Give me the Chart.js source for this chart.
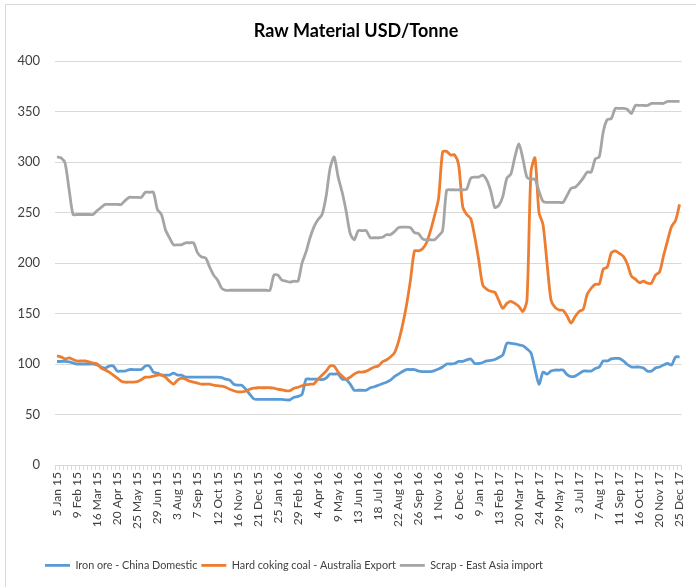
<!DOCTYPE html>
<html><head><meta charset="utf-8">
<script src="https://cdn.jsdelivr.net/npm/chart.js@4.4.1/dist/chart.umd.min.js"></script>
<style>html,body{margin:0;padding:0;background:#fff;overflow:hidden}</style>
</head><body>
<canvas id="c" width="696" height="587" style="display:block;width:696px;height:587px"></canvas>
<script>
// ---- data ----
const chartTitle = 'Raw Material USD/Tonne';
const seriesNames = ['Iron ore - China Domestic', 'Hard coking coal - Australia Export', 'Scrap - East Asia import'];
const seriesColors = ['#5B9BD5', '#ED7D31', '#A5A5A5'];
const tickLabels = ['5 Jan 15','9 Feb 15','16 Mar 15','20 Apr 15','25 May 15','29 Jun 15','3 Aug 15','7 Sep 15','12 Oct 15','16 Nov 15','21 Dec 15','25 Jan 16','29 Feb 16','4 Apr 16','9 May 16','13 Jun 16','18 Jul 16','22 Aug 16','26 Sep 16','1 Nov 16','6 Dec 16','9 Jan 17','13 Feb 17','20 Mar 17','24 Apr 17','29 May 17','3 Jul 17','7 Aug 17','11 Sep 17','16 Oct 17','20 Nov 17','25 Dec 17'];
const labelEvery = 5;
const ironOre = [102.5,102.5,102.5,102,101,100,100,100,100,100,
 99,97,96,98,98,93,93,93,94.5,94.5,
 94.5,94.5,98,98,92,91,89,89,89,91,
 89,89,87,87,87,87,87,87,87,87,
 87,86.5,85,84,80,79,79,75,70,65.5,
 65,65,65,65,65,65,65,64.5,64.5,67,
 68,70,85,85,85,85,84.5,86,90,90,
 90,85,84.5,80,74,74,74,74,76.5,77.5,
 79,80.5,82,84,87.5,90,92.5,94.5,94.5,94.5,
 93,92.5,92.5,92.5,93.5,95,97,100,100,100.5,
 102.5,102.5,104,105,100.5,100.5,101.5,103,103.5,104.5,
 106.5,109,120.5,120.5,120,119,118,115,111,95,
 80,92,90,93,94,94,94,89.5,87.5,88,
 90.5,93,93,93,95.5,97,103,103,105,105.5,
 105.5,103,99.5,97,97,97,96,93,93,96,
 97,99,100.5,99,107,107];
const cokingCoal = [108,107,105,106,104.5,103,103,103,102,101,
 100,96,94,92,89,86,83,82,82,82,
 82.5,84.5,87,87,88,89,89,87,83,80,
 84,86,85,83,82,81,80,80,80,79,
 78.5,78,77,75,73.5,72.5,72.5,73,75,76,
 76.5,76.5,76.5,76.5,76,75,74.5,73.5,73.5,76,
 77,78.5,79.5,80,80.5,85,89,93,98,98,
 92,88,85,87,90,92,92,93,95,97,
 98,102,104,107,111,122,138,158,183,212,
 212,214,220,232,247,264,310,310.5,307,307,
 297,256,248,244,226,203,178,174,172,171,
 163,155,160,162,160,157,152,163,290,304,
 250,238,200,163,156,153.5,153,147.5,140.5,147,
 152,154,169,175,179,179,194,196,210,212,
 209.5,206.5,199,187,184,180.5,182,180,180,188,
 191,207,222,236,242,258];
const scrap = [305,304,299,273,248,248,248,248,248,248,
 252,255,258,258,258,258,258,262,265,265,
 265,265,270,270,270,253,248,233,225,218,
 218,218,220,220,220,210,206,205,196,188,
 183,175,173,173,173,173,173,173,173,173,
 173,173,173,173,188,188,183,182,181,182,
 182,200,211,225,236,243,248,266,294,305,
 285,270,251,229,223,232,232,232,225,225,
 225,225.5,228,228,231,235,235.5,235.5,235,230,
 229,224,223,223,223,227,232,272,272.5,272.5,
 272.5,272.5,273,284,285,285,287,282,271,255,
 257,266,284,288,305,318,303,285,283,283,
 271,261,260,260,260,260,260,267,274,275,
 279,284,290,290,303,305,330,342,343,353,
 353,353,352,348,356,356,356,356,358,358,
 358,358,360,360,360,360];
const yMin = 0, yMax = 400, yStep = 50;

// weekly category labels (one per data point)
const months = ['Jan','Feb','Mar','Apr','May','Jun','Jul','Aug','Sep','Oct','Nov','Dec'];
const categories = ironOre.map((_, i) => {
  const d = new Date(Date.UTC(2015, 0, 5 + 7 * i));
  return d.getUTCDate() + ' ' + months[d.getUTCMonth()] + ' ' + String(d.getUTCFullYear()).slice(2);
});

// ---- layout tweaks ----
const LEGEND_LEFT = 41, LEGEND_TOP = 556;
const framePlugin = {
  id: 'frame',
  beforeDraw(chart) {
    const ctx = chart.ctx;
    ctx.save();
    ctx.fillStyle = '#fff';
    ctx.fillRect(0, 0, chart.width, chart.height);
    ctx.strokeStyle = '#d9d9d9';
    ctx.lineWidth = 1;
    ctx.strokeRect(5.5, 4.5, chart.width + 20, chart.height + 20);
    ctx.restore();
    if (chart.titleBlock) { chart.titleBlock.left = 24; chart.titleBlock.right = 688; }
    if (chart.legend) { chart.legend.left = LEGEND_LEFT; chart.legend.top = LEGEND_TOP; }
  }
};

const series = [ironOre, cokingCoal, scrap];
new Chart(document.getElementById('c'), {
  type: 'line',
  data: {
    labels: categories,
    datasets: series.map((vals, k) => ({
      label: seriesNames[k],
      data: vals,
      borderColor: seriesColors[k],
      backgroundColor: seriesColors[k],
      borderWidth: 2.8,
      pointRadius: 0,
      tension: 0.25,
      fill: false,
      order: series.length - k
    }))
  },
  options: {
    responsive: false,
    animation: false,
    devicePixelRatio: 1,
    layout: { padding: { left: 5, right: 8, top: 0, bottom: 0 } },
    plugins: {
      title: {
        display: true, text: chartTitle, color: '#000',
        font: { family: 'Lato', size: 18, weight: 'bold', lineHeight: 1.2 },
        padding: { top: 20, bottom: 19.4 }
      },
      legend: {
        position: 'bottom', align: 'start',
        labels: {
          usePointStyle: true, pointStyle: 'line', pointStyleWidth: 25,
          boxHeight: 11, padding: 4, color: '#404040',
          font: { family: 'Lato', size: 10.8 },
          sort: (a, b) => a.datasetIndex - b.datasetIndex
        }
      },
      tooltip: { enabled: false }
    },
    scales: {
      x: {
        offset: true,
        grid: { offset: true, drawOnChartArea: false, drawTicks: true, tickLength: 5, color: '#d9d9d9' },
        border: { color: '#d9d9d9' },
        ticks: {
          autoSkip: false, minRotation: 90, maxRotation: 90, padding: 2,
          color: '#404040', font: { family: 'Lato', size: 12 },
          callback: (v, i) => (i % labelEvery === 0 ? tickLabels[i / labelEvery] : '')
        },
        afterFit: s => { s.height = 122 - (s.chart.legend ? s.chart.legend.height : 0); }
      },
      y: {
        min: yMin, max: yMax,
        grid: { color: '#d9d9d9', drawTicks: false },
        border: { display: false },
        ticks: { stepSize: yStep, padding: 15, color: '#404040', font: { family: 'Lato', size: 13 } },
        afterFit: s => { s.width = 50; }
      }
    }
  },
  plugins: [framePlugin]
});
</script>
</body></html>
